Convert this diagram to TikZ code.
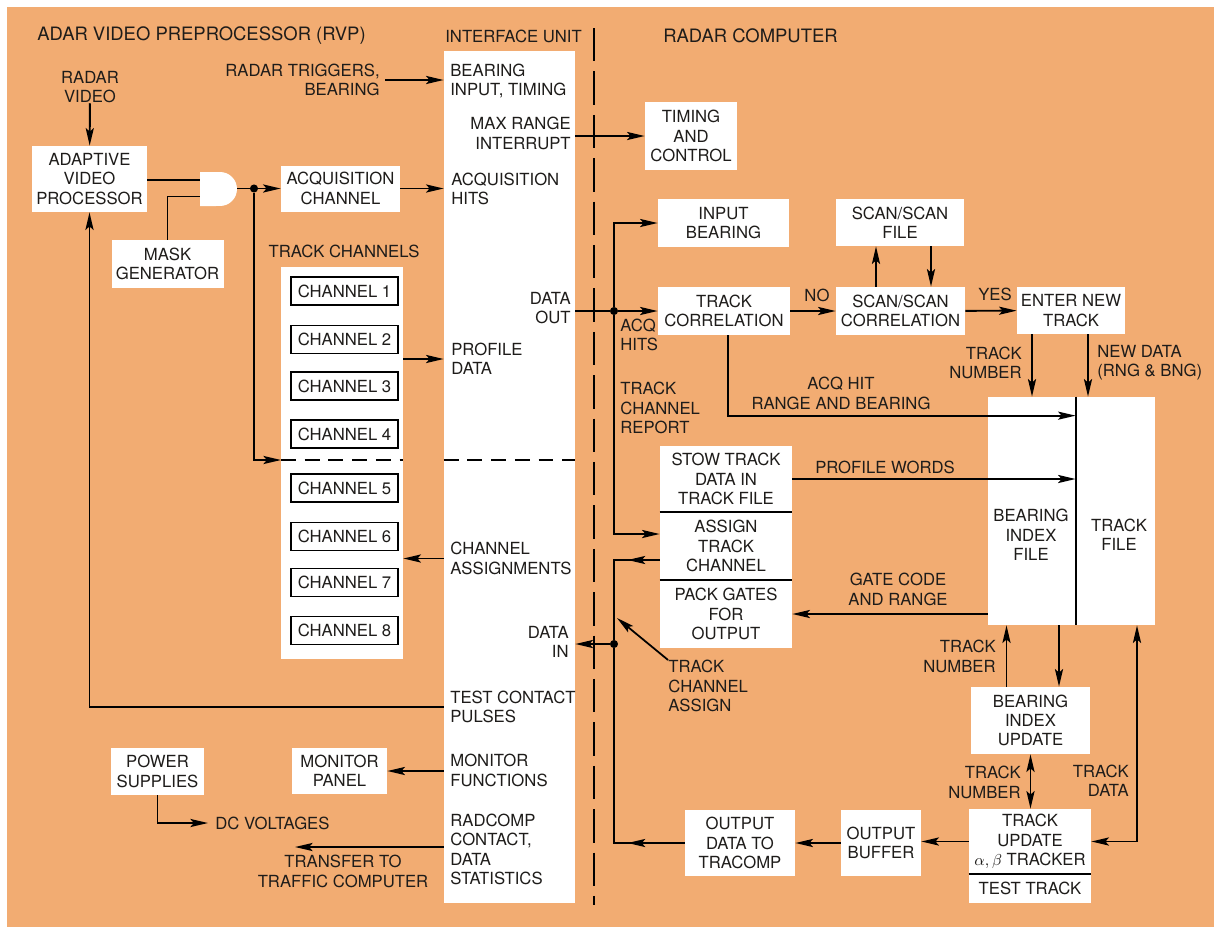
\documentclass[tikz,border=0pt]{standalone}
\usepackage{fontspec}
\setmainfont{TeX Gyre Heros}
\usetikzlibrary{arrows.meta, calc, positioning, decorations.markings}
\definecolor{rvporange}{RGB}{242,172,114}
\definecolor{inkgrey}{RGB}{30,28,26}
\tikzset{
  boxsize/.style 2 args={minimum width=#1*0.02cm, minimum height=#2*0.02cm},
  blk/.style={fill=white, inner sep=0pt, align=center, text=inkgrey},
  chan/.style={blk, draw=black, line width=0.8pt, boxsize={107}{28}},
  txt/.style={inner sep=0pt, align=center, text=inkgrey},
  ltxt/.style={txt, align=left, anchor=west},
  rtxt/.style={txt, align=right, anchor=east},
  ttl/.style={txt, anchor=west, font=\fontsize{10.5}{12}\selectfont},
  dot/.style={circle, fill=black, inner sep=0pt, minimum size=4.6pt},
  alin/.style={line width=1.1pt},
  pto/.style={alin, -{Stealth[length=10pt,width=4.6pt,inset=2pt]}},
  bipto/.style={alin, {Stealth[length=10pt,width=4.6pt,inset=2pt]}-{Stealth[length=10pt,width=4.6pt,inset=2pt]}},
  midpto/.style={alin, postaction={decorate}, decoration={markings, mark=at position #1 with {\arrow{Stealth[length=10pt,width=4.6pt,inset=2pt]}}}},
  sepline/.style={line width=1.1pt, dash pattern=on 19pt off 5.7pt},
  chdash/.style={line width=1.1pt, dash pattern=on 8.5pt off 5pt},
  divide/.style={line width=1pt}
}

\begin{document}
\begin{tikzpicture}[x=0.02cm, y=-0.02cm, font=\fontsize{9.5}{11}\selectfont]
    \useasboundingbox (0,0) rectangle (1214,927);
    \fill[white] (0,0) rectangle (1214,927);
    \fill[rvporange] (7,7) rectangle (1214,927);

    % headings
    \node[ttl] (rvph) at (37,36) {ADAR VIDEO PREPROCESSOR (RVP)};
    \node[txt, anchor=west] (iuh) at (445,36) {INTERFACE UNIT};
    \node[ttl] (rch) at (663,36) {RADAR COMPUTER};

    % preprocessor side
    \node[txt] (rv) at (90,87) {RADAR\\VIDEO};
    \node[blk, boxsize={115}{66}] (avp) at (89.5,179) {ADAPTIVE\\VIDEO\\PROCESSOR};
    \node[blk, boxsize={112}{48}] (mask) at (167.5,264) {MASK\\GENERATOR};
    \fill[white] (200,172) -- (220,172) arc[start angle=90, end angle=-90, radius=0.34cm] -- (200,206) -- cycle;
    \coordinate (gin1) at (200,180);
    \coordinate (gin2) at (200,196.5);
    \coordinate (gout) at (237,188.5);
    \node[dot] (split) at (254,188.5) {};
    \node[blk, boxsize={119}{46}] (acq) at (340.5,188.5) {ACQUISITION\\CHANNEL};
    \node[txt] (tch) at (344,251) {TRACK CHANNELS};
    \node[blk, boxsize={122}{392}] (chbox) at (342,463) {};
    \foreach \n/\y in {1/291,2/339.5,3/386,4/434,5/488,6/536.5,7/582.5,8/630.5}
        \node[chan] (ch\n) at (344.5,\y) {CHANNEL \n};
    \coordinate (chin) at (281,460);
    \node[blk, boxsize={93}{47}] (power) at (157.5,771.5) {POWER\\SUPPLIES};
    \node[txt, anchor=west] (dcv) at (215,823) {DC VOLTAGES};
    \node[blk, boxsize={95}{46}] (monitor) at (339.5,771) {MONITOR\\PANEL};
    \node[txt] (xferlbl) at (343,871.5) {TRANSFER TO\\TRAFFIC COMPUTER};
    \coordinate (xfer) at (295,847);
    \node[rtxt] (trig) at (380,80) {RADAR TRIGGERS,\\BEARING};

    % interface unit
    \node[blk, boxsize={131}{852}] (iface) at (509.5,477) {};
    \node[ltxt] (bearin) at (450,81) {BEARING\\INPUT, TIMING};
    \node[rtxt] (maxr) at (571,133.5) {MAX RANGE\\INTERRUPT};
    \node[ltxt] (acqh) at (451,189) {ACQUISITION\\HITS};
    \node[rtxt] (dout) at (571,308) {DATA\\OUT};
    \node[ltxt] (profd) at (451,359) {PROFILE\\DATA};
    \node[ltxt] (chas) at (450,558.5) {CHANNEL\\ASSIGNMENTS};
    \node[rtxt] (dinl) at (569,642) {DATA\\IN};
    \node[ltxt] (tcp) at (450,707) {TEST CONTACT\\PULSES};
    \node[ltxt] (monf) at (450,770.5) {MONITOR\\FUNCTIONS};
    \node[ltxt] (radc) at (450,849.5) {RADCOMP\\CONTACT,\\DATA\\STATISTICS};
    \coordinate (divtop) at (594,28);
    \coordinate (divbot) at (594,905);

    % radar computer
    \node[blk, boxsize={92}{68}] (timing) at (691,136) {TIMING\\AND\\CONTROL};
    \node[blk, boxsize={131}{48}] (inbear) at (723.5,223) {INPUT\\BEARING};
    \node[blk, boxsize={132}{48}] (tcorr) at (724,311) {TRACK\\CORRELATION};
    \node[blk, boxsize={128}{47}] (ssfile) at (900,222.5) {SCAN/SCAN\\FILE};
    \node[blk, boxsize={129}{48}] (sscorr) at (900.5,311) {SCAN/SCAN\\CORRELATION};
    \node[blk, boxsize={108}{47}] (newtrk) at (1071,310.5) {ENTER NEW\\TRACK};
    \node[blk, boxsize={88}{228}] (bif) at (1032,511) {};
    \node[blk, boxsize={79}{228}] (tfile) at (1115.5,511) {};
    \node[txt] (biflbl) at (1031,535) {BEARING\\INDEX\\FILE};
    \node[txt] (tflbl) at (1119,534.5) {TRACK\\FILE};
    \node[blk, boxsize={132}{66}] (stow) at (726,479) {STOW TRACK\\DATA IN\\TRACK FILE};
    \node[blk, boxsize={132}{68}] (assign) at (726,546) {ASSIGN\\TRACK\\CHANNEL};
    \node[blk, boxsize={132}{68}] (pack) at (726,614) {PACK GATES\\FOR\\OUTPUT};
    \node[blk, boxsize={110}{66}] (outdata) at (740,843) {OUTPUT\\DATA TO\\TRACOMP};
    \node[blk, boxsize={80}{66}] (outbuf) at (881,843) {OUTPUT\\BUFFER};
    \node[blk, boxsize={122}{65}] (trkupd) at (1030,841.5) {TRACK\\UPDATE\\$\alpha, \beta$ TRACKER};
    \node[blk, boxsize={122}{29}] (testtrk) at (1030,888.5) {TEST TRACK};
    \node[blk, boxsize={119}{67}] (biu) at (1030.5,720.5) {BEARING\\INDEX\\UPDATE};
    \node[dot] (dosplit) at (614,311) {};
    \node[dot] (displit) at (614,644) {};

    % labels on the right
    \node[txt] (nolbl) at (817,295) {NO};
    \node[txt] (yeslbl) at (995,294) {YES};
    \node[rtxt] (tnum1) at (1022,363) {TRACK\\NUMBER};
    \node[ltxt] (newd) at (1097,363) {NEW DATA\\(RNG \& BNG)};
    \node[txt] (acqrb) at (841,393.5) {ACQ HIT\\RANGE AND BEARING};
    \node[txt] (profw) at (885,467) {PROFILE WORDS};
    \node[txt] (gcr) at (898,589.5) {GATE CODE\\AND RANGE};
    \node[rtxt] (tnum2) at (996,656.5) {TRACK\\NUMBER};
    \node[rtxt] (tnum3) at (1021,782.5) {TRACK\\NUMBER};
    \node[rtxt] (tdata) at (1129,780.5) {TRACK\\DATA};
    \node[ltxt] (acqhl) at (620,335) {ACQ\\HITS};
    \node[ltxt] (tcrep) at (620,408) {TRACK\\CHANNEL\\REPORT};
    \node[ltxt] (tcasg) at (668,686) {TRACK\\CHANNEL\\ASSIGN};

    % connectors, preprocessor side
    \draw[pto] (rv) -- (avp);
    \draw[alin] (avp.east |- gin1) -- (gin1);
    \draw[alin] (mask.north) |- (gin2);
    \draw[alin] (gout) -- (split);
    \draw[pto] (split) -- (acq);
    \draw[pto] (split) |- (chin);
    \draw[chdash] (chin) -- (chbox.east |- chin);
    \draw[chdash] (iface.west |- chin) -- (iface.east |- chin);
    \draw[pto] ([xshift=3pt]trig.east) -- (trig.east -| iface.west);
    \draw[pto] (acq) -- (acq -| iface.west);
    \draw[pto] (chbox.east |- profd) -- (profd -| iface.west);
    \draw[pto] (chas -| iface.west) -- (chas -| chbox.east);
    \draw[pto] (tcp -| iface.west) -| (avp.south);
    \draw[pto] (monitor.east -| iface.west) -- (monitor.east);
    \draw[pto, shorten >=4pt] (power.south) |- (dcv.west);
    \draw[pto] (xfer -| iface.west) -- (xfer);

    % connectors, radar computer
    \draw[sepline] (divtop) -- (divbot);
    \draw[pto] (timing -| iface.east) -- (timing);
    \draw[alin] (tcorr -| iface.east) -- (dosplit);
    \draw[pto] (dosplit) -- (tcorr);
    \draw[pto] (dosplit) |- (inbear);
    \coordinate (asgin) at ($(assign.west)+(0,-12)$);
    \coordinate (asgout) at ($(assign.west)+(0,14)$);
    \draw[pto] (dosplit) |- (asgin);
    \draw[midpto=0.64cm] (asgout) -| (displit);
    \draw[midpto=1.14cm] (outdata) -| (displit);
    \draw[pto] (displit) -- (displit -| iface.east);
    \coordinate (tcatip) at (617,618);
    \draw[pto, line width=1pt] (tcasg.north west) -- (tcatip);
    \draw[pto] (tcorr) -- (sscorr);
    \draw[pto] (sscorr) -- (newtrk);
    \coordinate (ssup) at ($(sscorr.north)+(-24.5,0)$);
    \coordinate (ssdn) at ($(sscorr.north)+(30.5,0)$);
    \draw[pto] (ssup) -- (ssup |- ssfile.south);
    \draw[pto] (ssdn |- ssfile.south) -- (ssdn);
    \draw[pto] (newtrk.south -| bif.north) -- (bif.north);
    \coordinate (ndin) at ($(tfile.north)+(-27.5,0)$);
    \draw[pto] (newtrk.south -| ndin) -- (ndin);
    \coordinate (acqdn) at ($(tcorr.south)+(4,0)$);
    \coordinate (acqin) at ($(tfile.north west)+(0,19)$);
    \draw[pto] (acqdn) |- (acqin);
    \draw[pto] (stow.east) -- (stow.east -| tfile.west);
    \draw[pto] (pack.east -| bif.west) -- (pack.east);
    \draw[alin] (tfile.north west) -- (tfile.south west);
    \coordinate (bnup) at ($(biu.north)+(-24,0)$);
    \coordinate (bndn) at ($(biu.north)+(28.5,0)$);
    \draw[pto] (bnup) -- (bnup |- bif.south);
    \draw[pto] (bndn |- bif.south) -- (bndn);
    \draw[bipto] (biu.south) -- (biu.south |- trkupd.north);
    \coordinate (tdin) at ($(tfile.south)+(21.5,0)$);
    \draw[bipto] (trkupd.east) -| (tdin);
    \draw[pto] (trkupd.west) -- (trkupd.west -| outbuf.east);
    \draw[pto] (outbuf) -- (outdata);
    \draw[divide] (stow.south west) -- (stow.south east);
    \draw[divide] (assign.south west) -- (assign.south east);
    \draw[divide] (trkupd.south west) -- (trkupd.south east);
\end{tikzpicture}
\end{document}
